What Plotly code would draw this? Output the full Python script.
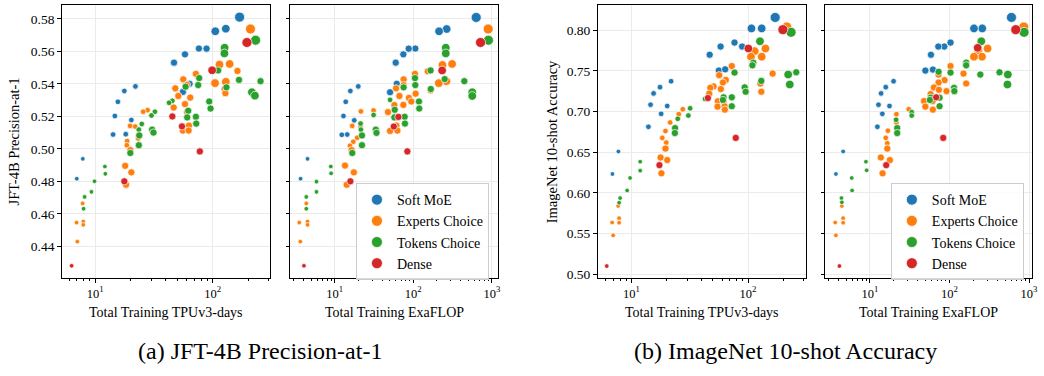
import plotly.graph_objects as go

W, H = 1044, 376
SERIES = ["Soft MoE", "Experts Choice", "Tokens Choice", "Dense"]
COLORS = ["#1f77b4", "#ff7f0e", "#2ca02c", "#d62728"]
# model scale category -> marker diameter
SCALE_PX = {"S": 4.6, "B": 5.6, "L": 7.2, "H": 8.6, "G": 10.0}

# ---------------- (a) JFT-4B Precision-at-1 vs TPUv3-days ----------------
JFT_TPU_SOFT = [(169, 0.581, "G"), (129, 0.5739, "H"), (105, 0.5723, "H"), (88.5, 0.5616, "L"),
                (76.2, 0.5617, "L"), (58, 0.5581, "L"), (46.8, 0.5530, "L"), (55.7, 0.5350, "L"),
                (63.5, 0.540, "L"), (22, 0.5384, "B"), (17.7, 0.5356, "B"), (15.6, 0.5289, "B"),
                (14.7, 0.5202, "B"), (20.3, 0.5177, "B"), (18.2, 0.5090, "B"), (14.2, 0.5088, "B"),
                (7.85, 0.4938, "S"), (6.98, 0.4816, "S")]
JFT_TPU_EXPERTS = [(209, 0.5737, "G"), (139, 0.5522, "H"), (114, 0.5518, "H"), (162, 0.5479, "L"),
                   (71.8, 0.5461, "L"), (56.1, 0.5427, "L"), (129, 0.5412, "H"), (104.5, 0.5404, "H"),
                   (60.3, 0.5394, "L"), (48, 0.5372, "L"), (126, 0.5368, "L"), (128, 0.5342, "L"),
                   (50.9, 0.5325, "L"), (64.3, 0.5315, "L"), (58, 0.5275, "L"), (46.5, 0.5254, "L"),
                   (60.5, 0.5226, "L"), (27.9, 0.5238, "B"), (25.6, 0.5228, "B"), (19.8, 0.5141, "B"),
                   (21.9, 0.5137, "B"), (62.7, 0.5143, "L"), (55.7, 0.5112, "L"), (62.3, 0.5112, "L"),
                   (18.7, 0.5047, "B"), (23.2, 0.5064, "B"), (18.6, 0.5022, "B"), (19.9, 0.4992, "L"),
                   (18.0, 0.4895, "L"), (20.3, 0.4855, "L"), (18.3, 0.4779, "L"), (7.82, 0.4664, "S"),
                   (6.95, 0.4546, "S"), (7.93, 0.4552, "S"), (7.93, 0.4532, "S"), (7.05, 0.4429, "S")]
JFT_TPU_TOKENS = [(231, 0.5668, "G"), (126, 0.5622, "H"), (125.5, 0.5587, "H"), (111, 0.5482, "L"),
                  (76.6, 0.5435, "L"), (75.1, 0.5392, "L"), (167, 0.5424, "L"), (254.5, 0.5416, "L"),
                  (215, 0.5348, "H"), (228, 0.5327, "H"), (130.6, 0.5378, "L"), (58.7, 0.5382, "L"),
                  (45.3, 0.5295, "B"), (42.5, 0.5283, "B"), (93.2, 0.5291, "L"), (95.7, 0.5248, "L"),
                  (61.8, 0.5234, "L"), (60.6, 0.5193, "L"), (71.8, 0.5197, "L"), (72.3, 0.5155, "L"),
                  (32.2, 0.5228, "B"), (30.1, 0.5205, "B"), (24.9, 0.5153, "B"), (23.5, 0.5118, "B"),
                  (30.5, 0.5118, "L"), (31.3, 0.5100, "L"), (23.7, 0.5082, "L"), (23.5, 0.5022, "L"),
                  (19.9, 0.4974, "L"), (12.1, 0.4891, "S"), (12.2, 0.4846, "S"), (9.87, 0.4800, "S"),
                  (9.3, 0.4735, "S"), (8.13, 0.4704, "S"), (7.97, 0.4631, "S")]
JFT_TPU_DENSE = [(195, 0.5654, "G"), (98.7, 0.5483, "H"), (45.3, 0.5199, "L"), (54.7, 0.5138, "L"),
                 (77.6, 0.4984, "L"), (17.7, 0.4800, "L"), (6.31, 0.4280, "S")]

# ---------------- (a) JFT-4B Precision-at-1 vs ExaFLOP ----------------
JFT_FLOP_SOFT = [(632, 0.5808, "G"), (266, 0.5737, "H"), (213, 0.5723, "H"), (106, 0.5617, "L"),
                 (87.3, 0.5616, "L"), (74.7, 0.5581, "L"), (59.7, 0.5530, "L"), (50.6, 0.5348, "L"),
                 (61.5, 0.540, "L"), (19.9, 0.5384, "B"), (15.8, 0.5356, "B"), (13.8, 0.5289, "B"),
                 (12.9, 0.5202, "B"), (17.7, 0.5175, "B"), (14.4, 0.5088, "B"), (12.3, 0.5086, "B"),
                 (4.5, 0.4938, "S"), (3.67, 0.4816, "S")]
JFT_FLOP_EXPERTS = [(898, 0.5737, "G"), (312, 0.5522, "H"), (235, 0.5516, "H"), (105, 0.5461, "L"),
                    (153, 0.5477, "L"), (75.3, 0.5427, "L"), (264, 0.5416, "H"), (211, 0.5404, "H"),
                    (75.3, 0.5392, "L"), (60.3, 0.5372, "L"), (166, 0.5360, "L"), (107, 0.5339, "L"),
                    (66.5, 0.5325, "L"), (87.9, 0.5313, "L"), (94.3, 0.5291, "L"), (74.7, 0.5270, "L"),
                    (57.4, 0.5269, "L"), (47.6, 0.5226, "L"), (60.9, 0.5143, "L"), (50.6, 0.5110, "L"),
                    (62.7, 0.5112, "L"), (31.2, 0.5236, "B"), (21.5, 0.5230, "B"), (16.7, 0.5141, "B"),
                    (21.3, 0.5135, "B"), (19.3, 0.5068, "B"), (17.2, 0.5043, "B"), (15.6, 0.5019, "B"),
                    (16.4, 0.4992, "L"), (13.5, 0.4897, "L"), (17.5, 0.4855, "L"), (14.2, 0.4779, "L"),
                    (4.34, 0.4664, "S"), (3.53, 0.4546, "S"), (4.5, 0.4552, "S"), (4.5, 0.4532, "S"),
                    (3.64, 0.4429, "S")]
JFT_FLOP_TOKENS = [(905, 0.5668, "G"), (259, 0.5622, "H"), (259, 0.5587, "H"), (166, 0.5482, "L"),
                   (105, 0.5435, "L"), (106, 0.5392, "L"), (446, 0.5416, "L"), (563, 0.5348, "H"),
                   (563, 0.5325, "H"), (251, 0.5429, "L"), (167, 0.5368, "L"), (75.3, 0.5378, "L"),
                   (50.6, 0.5301, "B"), (58, 0.5240, "L"), (118, 0.5291, "L"), (119, 0.5248, "L"),
                   (77.6, 0.5197, "L"), (78.3, 0.5155, "L"), (57.4, 0.5193, "L"), (31.2, 0.5208, "B"),
                   (21.3, 0.5155, "B"), (21.5, 0.5118, "B"), (33.3, 0.5118, "L"), (34, 0.5098, "L"),
                   (22.2, 0.5082, "L"), (22.2, 0.5022, "L"), (16.7, 0.4974, "L"), (8.9, 0.4891, "S"),
                   (8.98, 0.4849, "S"), (5.85, 0.4798, "S"), (5.85, 0.4735, "S"), (4.34, 0.4704, "S"),
                   (4.34, 0.4631, "S")]
JFT_FLOP_DENSE = [(718, 0.5654, "G"), (233, 0.5482, "H"), (64.6, 0.5196, "L"), (56.4, 0.5137, "L"),
                  (84, 0.4984, "L"), (15.8, 0.4800, "L"), (4.05, 0.4280, "S")]

# ---------------- (b) ImageNet 10-shot vs TPUv3-days ----------------
IN_TPU_SOFT = [(171, 0.8159, "G"), (131, 0.8024, "H"), (107, 0.8024, "H"), (76.6, 0.7850, "L"),
               (89, 0.7801, "L"), (58.2, 0.7801, "L"), (46.9, 0.7700, "L"), (56.2, 0.7505, "L"),
               (63.7, 0.752, "L"), (21.9, 0.7374, "B"), (17.6, 0.7301, "B"), (15.5, 0.7224, "B"),
               (14.6, 0.7085, "B"), (20.3, 0.7069, "B"), (18, 0.6972, "B"), (14, 0.6813, "B"),
               (7.74, 0.6509, "S"), (6.88, 0.6232, "S")]
IN_TPU_EXPERTS = [(215, 0.8041, "G"), (141, 0.7777, "H"), (114, 0.7744, "H"), (131, 0.7676, "H"),
                  (106, 0.7676, "H"), (72.6, 0.7561, "L"), (56.6, 0.7448, "L"), (64.5, 0.739, "L"),
                  (60.9, 0.7358, "L"), (50.7, 0.731, "L"), (58.5, 0.7277, "L"), (47.5, 0.7293, "L"),
                  (46.5, 0.722, "L"), (162.5, 0.7468, "L"), (127.7, 0.7346, "L"), (130, 0.7244, "L"),
                  (55.2, 0.7127, "L"), (61.7, 0.7130, "L"), (54.8, 0.7061, "L"), (63, 0.7066, "L"),
                  (63.3, 0.7024, "L"), (27.6, 0.7029, "B"), (25.5, 0.6968, "B"), (21.5, 0.6866, "B"),
                  (19.6, 0.6761, "B"), (18.4, 0.6676, "B"), (19.9, 0.6618, "B"), (19.6, 0.6545, "L"),
                  (17.8, 0.6435, "L"), (20.3, 0.6403, "L"), (18.1, 0.6240, "L"), (7.7, 0.5838, "S"),
                  (6.84, 0.5634, "S"), (7.85, 0.5688, "S"), (7.85, 0.5631, "S"), (6.98, 0.5476, "S")]
IN_TPU_TOKENS = [(234, 0.7976, "G"), (126.6, 0.7866, "H"), (111, 0.7602, "L"), (109, 0.757, "L"),
                 (76.6, 0.748, "L"), (259, 0.7484, "L"), (221, 0.7456, "H"), (228, 0.7334, "H"),
                 (130, 0.7378, "L"), (93.7, 0.7298, "L"), (95.5, 0.7244, "L"), (61.7, 0.7176, "L"),
                 (72.6, 0.7176, "L"), (60.9, 0.7143, "L"), (72.6, 0.7066, "L"), (42.8, 0.7155, "B"),
                 (31.9, 0.7041, "B"), (30.8, 0.6951, "B"), (25, 0.6911, "B"), (23.7, 0.6797, "L"),
                 (23.6, 0.6736, "L"), (11.9, 0.6383, "S"), (11.9, 0.6273, "S"), (9.75, 0.6183, "S"),
                 (9.2, 0.6029, "S"), (8.01, 0.5935, "S"), (7.85, 0.5878, "S")]
IN_TPU_DENSE = [(199, 0.8009, "G"), (100.7, 0.7777, "H"), (45.3, 0.7167, "L"), (78.5, 0.6676, "L"),
                (17.4, 0.6341, "L"), (6.15, 0.5098, "S")]

# ---------------- (b) ImageNet 10-shot vs ExaFLOP ----------------
IN_FLOP_SOFT = [(601, 0.8159, "G"), (258, 0.8024, "H"), (203, 0.8024, "H"), (103, 0.785, "L"),
                (86, 0.7801, "L"), (72.3, 0.7801, "L"), (58.4, 0.770, "L"), (61.8, 0.7517, "L"),
                (49.7, 0.7505, "L"), (19.8, 0.7374, "B"), (15.8, 0.7301, "B"), (13.8, 0.7224, "B"),
                (12.8, 0.7085, "B"), (17.6, 0.7069, "B"), (14.3, 0.6972, "B"), (12.4, 0.6813, "B"),
                (4.6, 0.6509, "S"), (3.73, 0.6232, "S")]
IN_FLOP_EXPERTS = [(858, 0.8041, "G"), (301, 0.7777, "H"), (230, 0.7752, "H"), (256, 0.7676, "H"),
                   (203, 0.7676, "H"), (103, 0.7561, "L"), (150, 0.7468, "L"), (162, 0.7346, "L"),
                   (72.9, 0.7456, "L"), (86.6, 0.7387, "L"), (72.9, 0.7358, "L"), (63.7, 0.7297, "L"),
                   (57.9, 0.7216, "L"), (91.7, 0.7252, "L"), (73.5, 0.7268, "L"), (47.8, 0.713, "L"),
                   (61.3, 0.713, "L"), (49.7, 0.7061, "L"), (61.8, 0.7024, "L"), (30.7, 0.7029, "B"),
                   (21.5, 0.6968, "B"), (21.5, 0.6866, "B"), (16.8, 0.6765, "B"), (15.8, 0.6676, "B"),
                   (16.5, 0.661, "B"), (16.5, 0.6545, "L"), (13.7, 0.6435, "L"), (17.8, 0.6403, "L"),
                   (14.4, 0.624, "L"), (4.43, 0.5838, "S"), (3.65, 0.5634, "S"), (4.6, 0.5688, "S"),
                   (4.6, 0.5631, "S"), (3.73, 0.5476, "S")]
IN_FLOP_TOKENS = [(866, 0.7976, "G"), (251, 0.7866, "H"), (162, 0.7602, "L"), (162, 0.757, "L"),
                  (103, 0.748, "L"), (425, 0.7484, "L"), (541, 0.7456, "H"), (535, 0.7334, "H"),
                  (244, 0.7456, "L"), (114, 0.7293, "L"), (115, 0.7252, "L"), (72.9, 0.749, "L"),
                  (75, 0.7171, "L"), (57.9, 0.7171, "L"), (56.7, 0.7143, "L"), (75, 0.7066, "L"),
                  (33.5, 0.6993, "B"), (33.5, 0.6951, "B"), (21.3, 0.6899, "B"), (22, 0.6797, "L"),
                  (22, 0.6736, "L"), (8.9, 0.6383, "S"), (9.08, 0.6277, "S"), (5.9, 0.6183, "S"),
                  (5.96, 0.6029, "S"), (4.38, 0.5935, "S"), (4.43, 0.5883, "S")]
IN_FLOP_DENSE = [(681, 0.8009, "G"), (226, 0.7785, "H"), (68, 0.7176, "L"), (83.4, 0.6676, "L"),
                 (16, 0.6341, "L"), (4.13, 0.5098, "S")]

JFT_TICKS = [0.44, 0.46, 0.48, 0.50, 0.52, 0.54, 0.56, 0.58]
IN_TICKS = [0.50, 0.55, 0.60, 0.65, 0.70, 0.75, 0.80]
X_TICKS = [10, 100, 1000]
X_TICKTEXT = ["10<sup>1</sup>", "10<sup>2</sup>", "10<sup>3</sup>"]
X_TITLES = ["Total Training TPUv3-days", "Total Training ExaFLOP",
            "Total Training TPUv3-days", "Total Training ExaFLOP"]
Y_TITLES = ["JFT-4B Precision-at-1", "ImageNet 10-shot Accuracy"]
CAPTIONS = ["(a) JFT-4B Precision-at-1", "(b) ImageNet 10-shot Accuracy"]

PANELS = [
    [JFT_TPU_SOFT, JFT_TPU_EXPERTS, JFT_TPU_TOKENS, JFT_TPU_DENSE],
    [JFT_FLOP_SOFT, JFT_FLOP_EXPERTS, JFT_FLOP_TOKENS, JFT_FLOP_DENSE],
    [IN_TPU_SOFT, IN_TPU_EXPERTS, IN_TPU_TOKENS, IN_TPU_DENSE],
    [IN_FLOP_SOFT, IN_FLOP_EXPERTS, IN_FLOP_TOKENS, IN_FLOP_DENSE],
]

FONT = "Liberation Serif"

# layout geometry (pixels)
X_DOM_PX = [(62, 272), (292, 501), (601, 811), (830, 1038)]
Y_DOM_PX = (5, 281)
X_RANGES = [(0.715, 2.49), (0.434, 3.08), (0.710, 2.50), (0.4375, 3.0375)]
Y_RANGES = [(0.4205, 0.5885), (0.4205, 0.5885), (0.4951, 0.8313), (0.4951, 0.8313)]

fig = go.Figure()

for i, panel in enumerate(PANELS):
    ax = "" if i == 0 else str(i + 1)
    for k, pts in enumerate(panel):
        fig.add_trace(go.Scatter(
            x=[p[0] for p in pts], y=[p[1] for p in pts], mode="markers",
            marker=dict(color=COLORS[k], size=[SCALE_PX[p[2]] for p in pts],
                        line=dict(color="white", width=0.7), opacity=1),
            xaxis="x" + ax, yaxis="y" + ax, showlegend=False, hoverinfo="skip"))

# legend entries
for li, (ax, lg) in enumerate([("2", "legend"), ("4", "legend2")]):
    for k, name in enumerate(SERIES):
        fig.add_trace(go.Scatter(
            x=[None], y=[None], mode="markers", name=name,
            marker=dict(color=COLORS[k], size=11, line=dict(color="white", width=0.7)),
            xaxis="x" + ax, yaxis="y" + ax, legend=lg, showlegend=True))

minor_vals = [m * 10 ** e for e in range(0, 4) for m in range(2, 10)]

layout = dict(width=W, height=H, margin=dict(l=0, r=0, t=0, b=0),
              paper_bgcolor="white", plot_bgcolor="white",
              font=dict(family=FONT, size=13, color="black"))

ydom = [1 - Y_DOM_PX[1] / H, 1 - Y_DOM_PX[0] / H]
for i in range(4):
    sfx = "" if i == 0 else str(i + 1)
    x0, x1 = X_DOM_PX[i]
    layout["xaxis" + sfx] = dict(
        domain=[x0 / W, x1 / W], type="log", range=list(X_RANGES[i]),
        anchor="y" + sfx, showline=True, linecolor="black", linewidth=1, mirror=True,
        ticks="outside", ticklen=3.5, tickwidth=0.8, tickcolor="black",
        tickvals=X_TICKS, ticktext=X_TICKTEXT, tickfont=dict(family=FONT, size=12.5),
        showgrid=True, gridcolor="#ebebeb", gridwidth=1, zeroline=False,
        minor=dict(ticks="outside", ticklen=2, tickwidth=0.6, tickcolor="black",
                   tickvals=minor_vals, showgrid=False))
    yt = JFT_TICKS if i < 2 else IN_TICKS
    layout["yaxis" + sfx] = dict(
        domain=ydom, range=list(Y_RANGES[i]), anchor="x" + sfx,
        showline=True, linecolor="black", linewidth=1, mirror=True,
        ticks="outside", ticklen=3.5, tickwidth=0.8, tickcolor="black",
        tickvals=yt, ticktext=["%.2f" % v for v in yt],
        showticklabels=(i % 2 == 0), tickfont=dict(family=FONT, size=13.5),
        showgrid=True, gridcolor="#ebebeb", gridwidth=1, zeroline=False)

leg_common = dict(font=dict(family=FONT, size=14), bgcolor="rgba(255,255,255,0.85)",
                  bordercolor="#cccccc", borderwidth=1, xanchor="left", yanchor="top",
                  itemsizing="trace", tracegroupgap=0)
layout["legend"] = dict(x=358 / W, y=1 - 185 / H, **leg_common)
layout["legend2"] = dict(x=896 / W, y=1 - 185 / H, **leg_common)

annotations = []
for i in range(4):
    x0, x1 = X_DOM_PX[i]
    annotations.append(dict(text=X_TITLES[i], x=(x0 + x1) / 2 / W, y=1 - 316 / H,
                            xref="paper", yref="paper", showarrow=False,
                            xanchor="center", yanchor="middle", font=dict(family=FONT, size=14)))
ymid = (Y_DOM_PX[0] + Y_DOM_PX[1]) / 2
for j, xp in enumerate([15, 556]):
    annotations.append(dict(text=Y_TITLES[j], x=xp / W, y=1 - ymid / H, textangle=-90,
                            xref="paper", yref="paper", showarrow=False,
                            xanchor="center", yanchor="middle", font=dict(family=FONT, size=14.5)))
for j, xp in enumerate([262, 790]):
    annotations.append(dict(text=CAPTIONS[j], x=xp / W, y=1 - 355 / H,
                            xref="paper", yref="paper", showarrow=False,
                            xanchor="center", yanchor="middle", font=dict(family=FONT, size=24)))
layout["annotations"] = annotations

fig.update_layout(**layout)
fig.write_html("out.html")
